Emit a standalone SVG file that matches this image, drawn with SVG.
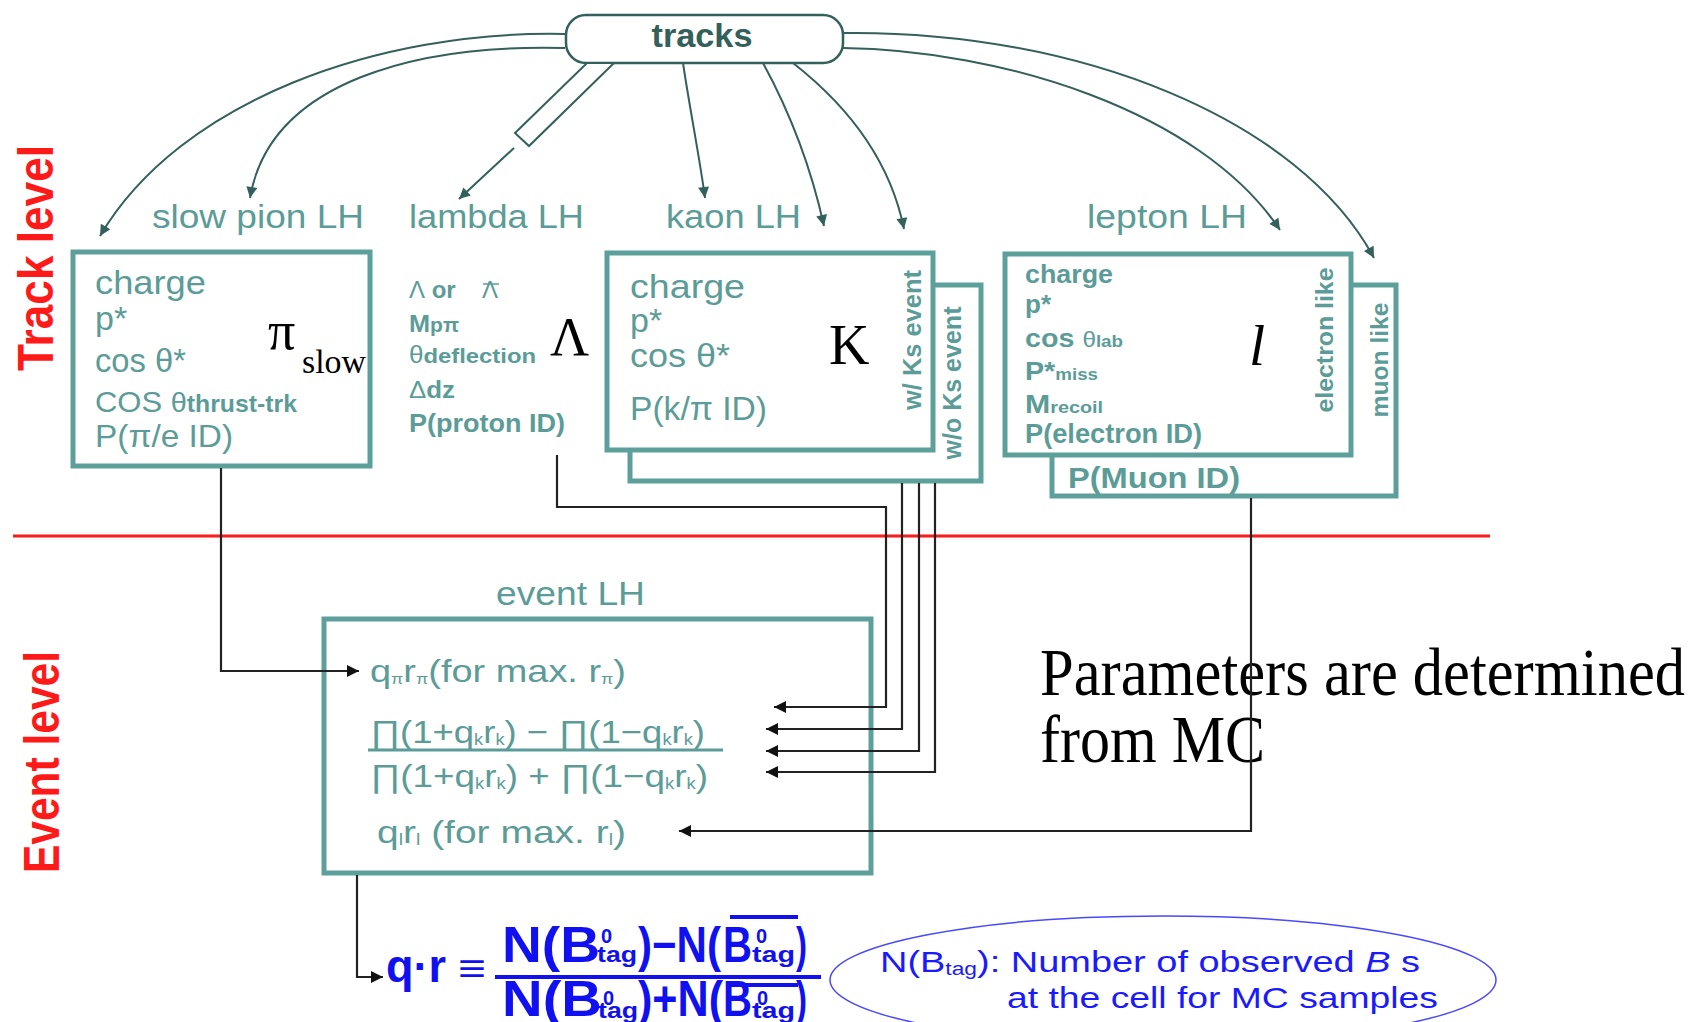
<svg xmlns="http://www.w3.org/2000/svg" width="1693" height="1022" viewBox="0 0 1693 1022">
<defs>
<style>
.box{fill:#fff;stroke:#5d9f9b;stroke-width:5}
.t{font-family:"Liberation Sans",Arial,sans-serif;fill:#5b9c98}
.tb{font-family:"Liberation Sans",Arial,sans-serif;fill:#5b9c98;font-weight:bold}
.ser{font-family:"Liberation Serif","Times New Roman",serif;fill:#000}
.red{font-family:"Liberation Sans",Arial,sans-serif;fill:#ff1a1a;font-weight:bold}
.blue{font-family:"Liberation Sans",Arial,sans-serif;fill:#1010f0;font-weight:bold}
.bluen{font-family:"Liberation Sans",Arial,sans-serif;fill:#1a1aff}
.trk{fill:none;stroke:#33605b;stroke-width:2}
.con{fill:none;stroke:#222;stroke-width:2.2}
</style>
<marker id="ah" viewBox="0 0 10 10" refX="10" refY="5" markerUnits="userSpaceOnUse" markerWidth="14" markerHeight="11" orient="auto"><path d="M0,0 L10,5 L0,10 z" fill="#33605b"/></marker>
<marker id="ab" viewBox="0 0 10 10" refX="10" refY="5" markerUnits="userSpaceOnUse" markerWidth="16" markerHeight="12" orient="auto"><path d="M0,0 L10,5 L0,10 z" fill="#111"/></marker>
</defs>
<rect width="1693" height="1022" fill="#fff"/>

<!-- level labels and separator -->
<g id="levels">
<text class="red" font-size="50" text-anchor="middle" textLength="226" lengthAdjust="spacingAndGlyphs" transform="translate(53,258) rotate(-90)">Track level</text>
<text class="red" font-size="50" text-anchor="middle" textLength="222" lengthAdjust="spacingAndGlyphs" transform="translate(59,762) rotate(-90)">Event level</text>
<line x1="13" y1="536" x2="1490" y2="536" stroke="#ff1a1a" stroke-width="3"/>
</g>

<!-- tracks -->
<g id="tracks">
<rect x="566" y="15" width="277" height="48" rx="20" fill="#fff" stroke="#33605b" stroke-width="2.5"/>
<text x="702" y="47" text-anchor="middle" font-family="Liberation Sans, Arial, sans-serif" font-size="34" font-weight="bold" fill="#33605b" textLength="101" lengthAdjust="spacingAndGlyphs">tracks</text>
</g>

<!-- slow pion LH -->
<g id="slowpion">
<text class="t" x="152" y="228" font-size="33" textLength="212" lengthAdjust="spacingAndGlyphs">slow pion LH</text>
<rect class="box" x="73" y="252" width="297" height="214"/>
<text class="t" x="95" y="294" font-size="34" textLength="111" lengthAdjust="spacingAndGlyphs">charge</text>
<text class="t" x="95" y="330" font-size="34">p*</text>
<text class="t" x="95" y="372" font-size="34" textLength="91" lengthAdjust="spacingAndGlyphs">cos θ*</text>
<text class="t" x="95" y="412" font-size="30" textLength="202" lengthAdjust="spacingAndGlyphs">COS <tspan font-size="28">θ</tspan><tspan font-size="24" font-weight="bold">thrust-trk</tspan></text>
<text class="t" x="95" y="447" font-size="32" textLength="138" lengthAdjust="spacingAndGlyphs">P(π/e  ID)</text>
<text class="ser" x="268" y="349" font-size="54">π</text>
<text class="ser" x="302" y="373" font-size="33" textLength="64" lengthAdjust="spacingAndGlyphs">slow</text>
</g>

<!-- lambda LH -->
<g id="lambda">
<text class="t" x="409" y="228" font-size="33" textLength="175" lengthAdjust="spacingAndGlyphs">lambda LH</text>
<text class="tb" x="409" y="298" font-size="24"><tspan font-weight="normal">Λ</tspan> or</text>
<text class="t" x="482" y="298" font-size="24">Λ</text>
<line x1="483" y1="284" x2="499" y2="284" stroke="#5b9c98" stroke-width="1.5"/>
<text class="tb" x="409" y="332" font-size="24" textLength="50" lengthAdjust="spacingAndGlyphs">M<tspan font-size="20">pπ</tspan></text>
<text class="tb" x="409" y="363" font-size="21" textLength="127" lengthAdjust="spacingAndGlyphs"><tspan font-weight="normal" font-size="23">θ</tspan>deflection</text>
<text class="tb" x="409" y="398" font-size="24" textLength="46" lengthAdjust="spacingAndGlyphs"><tspan font-weight="normal">Δ</tspan>dz</text>
<text class="tb" x="409" y="432" font-size="25" textLength="156" lengthAdjust="spacingAndGlyphs">P(proton ID)</text>
<text class="ser" x="550" y="355" font-size="54">Λ</text>
</g>

<!-- kaon LH -->
<g id="kaon">
<text class="t" x="666" y="228" font-size="33" textLength="135" lengthAdjust="spacingAndGlyphs">kaon LH</text>
<rect class="box" x="630" y="285" width="351" height="196"/>
<rect class="box" x="607" y="253" width="326" height="197"/>
<text class="t" x="630" y="298" font-size="34" textLength="115" lengthAdjust="spacingAndGlyphs">charge</text>
<text class="t" x="630" y="332" font-size="34">p*</text>
<text class="t" x="630" y="367" font-size="34" textLength="100" lengthAdjust="spacingAndGlyphs">cos θ*</text>
<text class="t" x="630" y="420" font-size="34" textLength="137" lengthAdjust="spacingAndGlyphs">P(k/π ID)</text>
<text class="ser" x="829" y="364" font-size="56">K</text>
<text class="tb" font-size="25" text-anchor="middle" textLength="140" lengthAdjust="spacingAndGlyphs" transform="translate(921,340) rotate(-90)">w/ Ks event</text>
<text class="tb" font-size="25" text-anchor="middle" textLength="153" lengthAdjust="spacingAndGlyphs" transform="translate(961,383) rotate(-90)">w/o Ks event</text>
</g>

<!-- lepton LH -->
<g id="lepton">
<text class="t" x="1087" y="228" font-size="33" textLength="160" lengthAdjust="spacingAndGlyphs">lepton LH</text>
<rect class="box" x="1052" y="285" width="344" height="211"/>
<rect class="box" x="1005" y="254" width="346" height="201"/>
<text class="tb" x="1025" y="283" font-size="26" textLength="88" lengthAdjust="spacingAndGlyphs">charge</text>
<text class="tb" x="1025" y="313" font-size="26">p*</text>
<text class="tb" x="1025" y="347" font-size="26" textLength="98" lengthAdjust="spacingAndGlyphs">cos <tspan font-weight="normal" font-size="22">θ</tspan><tspan font-size="17">lab</tspan></text>
<text class="tb" x="1025" y="380" font-size="26" textLength="73" lengthAdjust="spacingAndGlyphs">P*<tspan font-size="17">miss</tspan></text>
<text class="tb" x="1025" y="413" font-size="26" textLength="78" lengthAdjust="spacingAndGlyphs">M<tspan font-size="17">recoil</tspan></text>
<text class="tb" x="1025" y="443" font-size="27" textLength="177" lengthAdjust="spacingAndGlyphs">P(electron ID)</text>
<text class="tb" x="1068" y="488" font-size="30" textLength="172" lengthAdjust="spacingAndGlyphs">P(Muon ID)</text>
<text class="ser" x="1249" y="365" font-size="58" font-style="italic">l</text>
<text class="tb" font-size="23" text-anchor="middle" textLength="145" lengthAdjust="spacingAndGlyphs" transform="translate(1333,340) rotate(-90)">electron like</text>
<text class="tb" font-size="23" text-anchor="middle" textLength="115" lengthAdjust="spacingAndGlyphs" transform="translate(1388,360) rotate(-90)">muon like</text>
</g>

<!-- event LH -->
<g id="event">
<text class="t" x="496" y="605" font-size="33" textLength="149" lengthAdjust="spacingAndGlyphs">event LH</text>
<rect class="box" x="324" y="619" width="547" height="254"/>
<text class="t" x="370" y="682" font-size="32" textLength="256" lengthAdjust="spacingAndGlyphs">q<tspan font-size="15" dy="2">π</tspan><tspan dy="-2">r</tspan><tspan font-size="15" dy="2">π</tspan><tspan dy="-2">(for max. r</tspan><tspan font-size="15" dy="2">π</tspan><tspan dy="-2">)</tspan></text>
<text class="t" x="370" y="743" font-size="32" textLength="335" lengthAdjust="spacingAndGlyphs">∏(1+q<tspan font-size="16" dy="2">k</tspan><tspan dy="-2">r</tspan><tspan font-size="16" dy="2">k</tspan><tspan dy="-2">) − ∏(1−q</tspan><tspan font-size="16" dy="2">k</tspan><tspan dy="-2">r</tspan><tspan font-size="16" dy="2">k</tspan><tspan dy="-2">)</tspan></text>
<line x1="368" y1="750" x2="723" y2="750" stroke="#5b9c98" stroke-width="3"/>
<text class="t" x="370" y="787" font-size="32" textLength="338" lengthAdjust="spacingAndGlyphs">∏(1+q<tspan font-size="16" dy="2">k</tspan><tspan dy="-2">r</tspan><tspan font-size="16" dy="2">k</tspan><tspan dy="-2">) + ∏(1−q</tspan><tspan font-size="16" dy="2">k</tspan><tspan dy="-2">r</tspan><tspan font-size="16" dy="2">k</tspan><tspan dy="-2">)</tspan></text>
<text class="t" x="377" y="843" font-size="32" textLength="249" lengthAdjust="spacingAndGlyphs">q<tspan font-size="16" dy="2">l</tspan><tspan dy="-2">r</tspan><tspan font-size="16" dy="2">l</tspan><tspan dy="-2"> (for max. r</tspan><tspan font-size="16" dy="2">l</tspan><tspan dy="-2">)</tspan></text>
</g>

<!-- q.r definition -->
<g id="qr">
<text class="blue" x="386" y="982" font-size="46" textLength="60" lengthAdjust="spacingAndGlyphs">q·r</text>
<text class="blue" x="458" y="982" font-size="40" textLength="28" lengthAdjust="spacingAndGlyphs">≡</text>
<text class="blue" x="502" y="962" font-size="50" textLength="98" lengthAdjust="spacingAndGlyphs">N(B</text>
<text class="blue" x="601" y="943" font-size="20">0</text>
<text class="blue" x="597" y="962" font-size="22" textLength="40" lengthAdjust="spacingAndGlyphs">tag</text>
<text class="blue" x="638" y="962" font-size="50" textLength="83" lengthAdjust="spacingAndGlyphs">)−N(</text>
<text class="blue" x="723" y="962" font-size="50" textLength="29" lengthAdjust="spacingAndGlyphs">B</text>
<text class="blue" x="756" y="943" font-size="20">0</text>
<text class="blue" x="752" y="962" font-size="22" textLength="43" lengthAdjust="spacingAndGlyphs">tag</text>
<text class="blue" x="796" y="962" font-size="50" textLength="11" lengthAdjust="spacingAndGlyphs">)</text>
<line x1="730" y1="917" x2="798" y2="917" stroke="#1010f0" stroke-width="4"/>
<line x1="495" y1="977" x2="821" y2="977" stroke="#1010f0" stroke-width="4"/>
<text class="blue" x="502" y="1016" font-size="50" textLength="100" lengthAdjust="spacingAndGlyphs">N(B</text>
<text class="blue" x="603" y="1005" font-size="20">0</text>
<text class="blue" x="598" y="1018" font-size="22" textLength="40" lengthAdjust="spacingAndGlyphs">tag</text>
<text class="blue" x="638" y="1016" font-size="50" textLength="85" lengthAdjust="spacingAndGlyphs">)+N(</text>
<text class="blue" x="723" y="1016" font-size="50" textLength="29" lengthAdjust="spacingAndGlyphs">B</text>
<text class="blue" x="757" y="1005" font-size="20">0</text>
<text class="blue" x="752" y="1018" font-size="22" textLength="43" lengthAdjust="spacingAndGlyphs">tag</text>
<text class="blue" x="796" y="1016" font-size="50" textLength="11" lengthAdjust="spacingAndGlyphs">)</text>
<line x1="726" y1="985" x2="798" y2="985" stroke="#1010f0" stroke-width="4"/>
</g>

<!-- note ellipse -->
<g id="note">
<ellipse cx="1163" cy="980" rx="333" ry="64" fill="none" stroke="#4848ff" stroke-width="1.5"/>
<text class="bluen" x="880" y="972" font-size="30" textLength="540" lengthAdjust="spacingAndGlyphs">N(B<tspan font-size="18" dy="3">tag</tspan><tspan dy="-3">): Number of observed  </tspan><tspan font-style="italic">B</tspan> s</text>
<text class="bluen" x="1007" y="1008" font-size="30" textLength="431" lengthAdjust="spacingAndGlyphs">at the cell for MC samples</text>
</g>

<!-- parameters note -->
<g id="params">
<text class="ser" x="1040" y="695" font-size="68" textLength="645" lengthAdjust="spacingAndGlyphs">Parameters are determined</text>
<text class="ser" x="1040" y="762" font-size="68" textLength="225" lengthAdjust="spacingAndGlyphs">from MC</text>
</g>

<!-- connectors -->
<g id="connectors">
<path class="trk" d="M565,34 C380,30 180,100 100,236" marker-end="url(#ah)"/>
<path class="trk" d="M565,48 C420,44 270,80 250,198" marker-end="url(#ah)"/>
<polygon points="587,63 614,63 529,146 515,133" fill="#fff" stroke="#33605b" stroke-width="2"/>
<path class="trk" d="M514,148 L459,199" marker-end="url(#ah)"/>
<path class="trk" d="M683,63 C690,110 700,160 705,198" marker-end="url(#ah)"/>
<path class="trk" d="M763,63 Q805,140 824,226" marker-end="url(#ah)"/>
<path class="trk" d="M793,63 Q885,135 904,229" marker-end="url(#ah)"/>
<path class="trk" d="M843,48 C1000,50 1200,110 1280,230" marker-end="url(#ah)"/>
<path class="trk" d="M843,33 C1080,30 1300,120 1374,258" marker-end="url(#ah)"/>
<polyline class="con" points="221,468 221,671 359,671" marker-end="url(#ab)"/>
<polyline class="con" points="557,455 557,507 886,507 886,707 774,707" marker-end="url(#ab)"/>
<polyline class="con" points="902,483 902,729 766,729" marker-end="url(#ab)"/>
<polyline class="con" points="919,483 919,751 766,751" marker-end="url(#ab)"/>
<polyline class="con" points="935,483 935,772 766,772" marker-end="url(#ab)"/>
<polyline class="con" points="1251,498 1251,831 679,831" marker-end="url(#ab)"/>
<polyline class="con" points="357,875 357,977 383,977" marker-end="url(#ab)"/>
</g>
</svg>
